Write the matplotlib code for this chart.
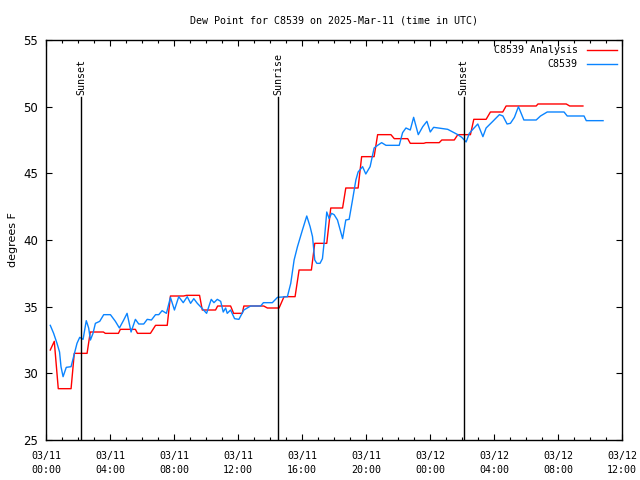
import matplotlib
matplotlib.use("Agg")
import matplotlib.pyplot as plt
import matplotlib.dates as mdates
import numpy as np

# hours after 2025-03-11 00:00 UTC, dew point in F
analysis_hours = [0.25, 0.50, 0.75, 1.55, 1.75, 2.55, 2.75, 3.57, 3.69, 4.51, 4.63, 5.57,
                  5.70, 6.51, 6.83, 7.56, 7.76, 8.58, 8.77, 9.58, 9.75, 10.58, 10.71, 11.52,
                  11.71, 12.25, 12.35, 13.59, 13.82, 14.55, 14.86, 15.55, 15.80, 16.57, 16.78,
                  17.53, 17.78, 18.52, 18.72, 19.49, 19.71, 20.49, 20.71, 21.54, 21.75, 22.59,
                  22.75, 23.59, 23.73, 24.56, 24.72, 25.50, 25.72, 26.51, 26.72, 27.49, 27.76,
                  28.53, 28.74, 30.62, 30.73, 32.50, 32.71, 33.54]
analysis_vals = [31.75, 32.4, 28.85, 28.85, 31.5, 31.5, 33.1, 33.1, 33.0, 33.0, 33.3, 33.3,
                 33.0, 33.0, 33.6, 33.6, 35.8, 35.8, 35.85, 35.85, 34.75, 34.75, 35.05, 35.05,
                 34.5, 34.5, 35.05, 35.05, 34.9, 34.9, 35.75, 35.75, 37.75, 37.75, 39.75,
                 39.75, 42.4, 42.4, 43.9, 43.9, 46.25, 46.25, 47.9, 47.9, 47.6, 47.6,
                 47.25, 47.25, 47.3, 47.3, 47.5, 47.5, 47.9, 47.9, 49.05, 49.05, 49.6,
                 49.6, 50.05, 50.05, 50.2, 50.2, 50.05, 50.05]

obs_hours = [0.25, 0.46, 0.67, 0.83, 0.92, 1.05, 1.25, 1.55, 1.71, 1.92, 2.09, 2.30, 2.50,
             2.65, 2.76, 2.92, 3.07, 3.34, 3.59, 4.01, 4.32, 4.57, 4.84, 5.05, 5.30, 5.57,
             5.78, 6.09, 6.31, 6.57, 6.83, 7.03, 7.24, 7.51, 7.76, 8.01, 8.28, 8.56, 8.81,
             9.02, 9.22, 9.44, 9.64, 10.02, 10.31, 10.48, 10.69, 10.90, 11.06, 11.21, 11.31,
             11.52, 11.77, 12.04, 12.35, 12.77, 13.40, 13.57, 14.13, 14.45, 15.07, 15.28,
             15.49, 15.70, 16.01, 16.28, 16.49, 16.64, 16.78, 16.91, 17.11, 17.26, 17.36,
             17.53, 17.68, 17.83, 17.99, 18.20, 18.37, 18.52, 18.72, 18.93, 19.14, 19.35,
             19.49, 19.77, 19.97, 20.24, 20.49, 20.71, 20.96, 21.23, 22.06, 22.27, 22.48,
             22.75, 22.96, 23.25, 23.53, 23.79, 24.00, 24.21, 25.09, 25.40, 25.72, 25.97,
             26.24, 26.44, 26.66, 26.97, 27.29, 27.49, 27.91, 28.32, 28.54, 28.80, 29.01,
             29.26, 29.51, 29.68, 29.85, 30.62, 30.89, 31.31, 32.36, 32.56, 33.61, 33.75,
             34.80]
obs_vals = [33.6, 33.0, 32.25, 31.6, 30.5, 29.75, 30.45, 30.5, 31.25, 32.25, 32.7, 32.55, 33.95,
            33.4, 32.5, 33.0, 33.75, 33.9, 34.4, 34.4, 33.9, 33.4, 34.0, 34.5, 33.1, 34.05,
            33.7, 33.7, 34.05, 34.0, 34.4, 34.4, 34.7, 34.5, 35.7, 34.75, 35.75, 35.3, 35.75,
            35.25, 35.6, 35.25, 35.0, 34.5, 35.55, 35.3, 35.55, 35.4, 34.6, 34.9, 34.5,
            34.75, 34.1, 34.05, 34.75, 35.05, 35.05, 35.3, 35.3, 35.7, 35.75, 36.75,
            38.5, 39.5, 40.75, 41.8, 41.0, 40.25, 38.5, 38.25, 38.25, 38.6, 39.75,
            42.1, 41.6, 42.0, 41.9, 41.5, 40.75, 40.1, 41.5, 41.55, 43.0, 44.5,
            45.1, 45.5, 44.95, 45.5, 46.9, 47.1, 47.3, 47.1, 47.1, 48.05, 48.4,
            48.25, 49.2, 47.9, 48.5, 48.9, 48.1, 48.45, 48.3, 48.1, 47.9, 47.7,
            47.35, 48.0, 48.3, 48.7, 47.75, 48.4, 48.9, 49.4, 49.3, 48.7, 48.75,
            49.2, 50.0, 49.5, 49.0, 49.0, 49.3, 49.6, 49.6, 49.3, 49.3, 48.95,
            48.95]

sun_hours = [2.19, 14.5, 26.1]
sun_labels = ["Sunset", "Sunrise", "Sunset"]

start = np.datetime64("2025-03-11T00:00")


def to_time(hours):
    return start + (np.array(hours) * 3600).astype("timedelta64[s]")


mono = "DejaVu Sans Mono"
fig = plt.figure(figsize=(6.4, 4.8), dpi=100)
ax = fig.add_axes([0.0723, 0.0833, 0.9, 0.8334])

ax.plot(to_time(analysis_hours), analysis_vals, color="#ff0000", lw=1.0, label="C8539 Analysis")
ax.plot(to_time(obs_hours), obs_vals, color="#0a84ff", lw=1.0, label="C8539")

for h, lab in zip(sun_hours, sun_labels):
    t = to_time([h])[0]
    ax.plot([t, t], [25, 50.75], color="black", lw=1.0)
    ax.text(t, 50.9, lab, rotation=90, ha="center", va="bottom", fontsize=7.2, family=mono)

ax.set_xlim(start, start + np.timedelta64(36, "h"))
ax.set_ylim(25, 55)
ax.xaxis.set_major_locator(mdates.HourLocator(byhour=range(0, 24, 4)))
ax.xaxis.set_minor_locator(mdates.HourLocator())
ax.xaxis.set_major_formatter(mdates.DateFormatter("%m/%d\n%H:%M"))
ax.set_yticks(np.arange(25, 56, 5))

ax.tick_params(axis="both", which="both", direction="in", top=True, right=True, width=0.8)
ax.tick_params(axis="both", which="major", length=4.5)
ax.tick_params(axis="x", which="minor", length=2.2)
ax.tick_params(axis="x", which="major", labelsize=7.2, pad=8)
ax.tick_params(axis="y", which="major", labelsize=8.5, pad=6)
for lab in ax.get_xticklabels():
    lab.set_family(mono)
    lab.set_linespacing(1.45)
for s in ax.spines.values():
    s.set_linewidth(1.0)

ax.set_ylabel("degrees F", fontsize=8, labelpad=4)
ax.set_title("Dew Point for C8539 on 2025-Mar-11 (time in UTC)", fontsize=7.2, family=mono, pad=12)

ax.legend(loc="upper right", frameon=False, markerfirst=False, prop={"family": mono, "size": 7.2},
          handlelength=3.0, handletextpad=0.9, labelspacing=0.4, borderaxespad=0.15)

fig.savefig("out.png", dpi=100)
